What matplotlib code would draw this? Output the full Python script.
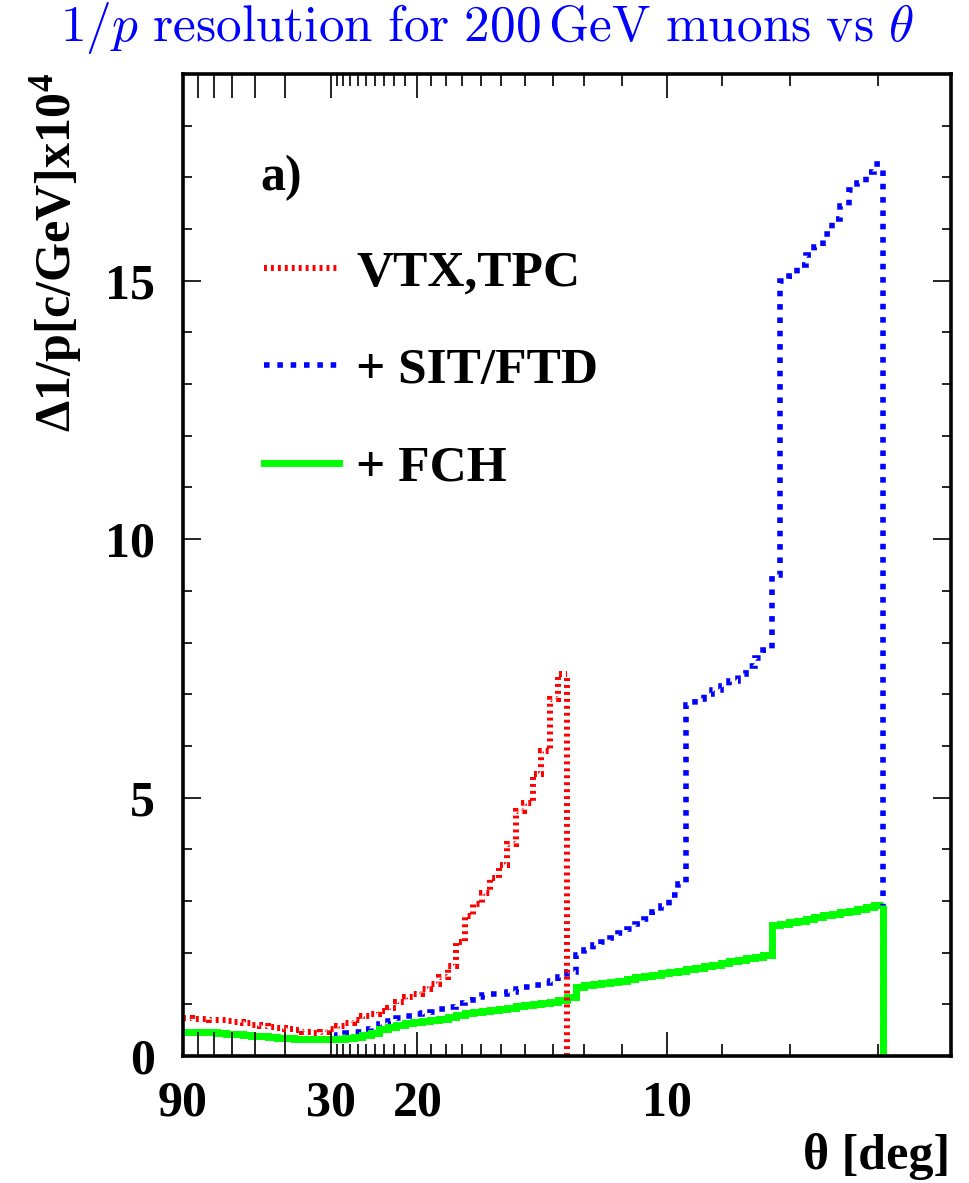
import numpy as np
import matplotlib
matplotlib.use("Agg")
import matplotlib.pyplot as plt
from matplotlib.lines import Line2D

plt.rcParams.update({
    'font.family': 'Liberation Serif',
    'font.weight': 'bold',
    'font.size': 36,
    'mathtext.fontset': 'custom',
    'mathtext.rm': 'Liberation Serif:bold',
    'mathtext.it': 'Liberation Serif:bold',
    'mathtext.bf': 'Liberation Serif:bold',
    'lines.scale_dashes': False,
})

# resolution histograms, bins of 0.1 in cot(theta)
bin_width = 0.1
vtx_tpc = [0.73, 0.72, 0.71, 0.70, 0.69, 0.67, 0.65, 0.63, 0.60, 0.58,
           0.56, 0.54, 0.52, 0.50, 0.47, 0.45, 0.47, 0.53, 0.58, 0.64,
           0.70, 0.77, 0.81, 0.87, 0.93, 1.05, 1.14, 1.19, 1.30, 1.40,
           1.52, 1.75, 2.20, 2.70, 2.95, 3.15, 3.45, 3.70, 4.10, 4.75,
           4.90, 5.45, 5.90, 6.90, 7.40]
sit_ftd = [0.47, 0.47, 0.46, 0.46, 0.44, 0.43, 0.42, 0.40, 0.39, 0.38,
           0.36, 0.35, 0.34, 0.33, 0.32, 0.32, 0.33, 0.37, 0.40, 0.44,
           0.47, 0.52, 0.56, 0.62, 0.68, 0.74, 0.78, 0.82, 0.84, 0.86,
           0.90, 0.95, 1.03, 1.09, 1.15, 1.18, 1.19, 1.20, 1.24, 1.29,
           1.33, 1.37, 1.42, 1.45, 1.52, 1.63, 1.95, 2.06, 2.15, 2.21,
           2.29, 2.38, 2.46, 2.55, 2.66, 2.78, 2.90, 3.12, 3.32, 6.80,
           6.90, 7.00, 7.08, 7.15, 7.25, 7.40, 7.55, 7.70, 7.85, 9.30,
           15.0, 15.1, 15.3, 15.5, 15.65, 15.9, 16.2, 16.45, 16.75, 16.9,
           17.1, 17.25]
fch = [0.47, 0.47, 0.46, 0.46, 0.44, 0.43, 0.42, 0.40, 0.39, 0.38,
       0.36, 0.35, 0.34, 0.33, 0.32, 0.32, 0.33, 0.33, 0.33, 0.34,
       0.36, 0.40, 0.45, 0.52, 0.57, 0.60, 0.63, 0.65, 0.67, 0.69,
       0.72, 0.76, 0.80, 0.83, 0.86, 0.88, 0.89, 0.91, 0.93, 0.96,
       0.98, 1.00, 1.02, 1.04, 1.08, 1.15, 1.34, 1.37, 1.39, 1.41,
       1.43, 1.46, 1.49, 1.52, 1.54, 1.57, 1.60, 1.62, 1.65, 1.68,
       1.71, 1.74, 1.77, 1.80, 1.83, 1.86, 1.89, 1.92, 1.96, 2.53,
       2.56, 2.59, 2.62, 2.66, 2.69, 2.72, 2.75, 2.78, 2.81, 2.84,
       2.88, 2.92]

theta_major = [90, 80, 70, 60, 50, 40, 30, 20, 10]
theta_labels = ['90', '', '', '', '', '', '30', '20', '10']
theta_minor = [29, 28, 27, 26, 25, 24, 23, 22, 21,
               19, 18, 17, 16, 15, 14, 13, 12, 11, 9, 8, 7]


def cot(deg):
    return 1.0 / np.tan(np.radians(np.asarray(deg, dtype=float)))


def draw_hist(ax, vals, style):
    # step outline, closed down to zero only at the last bin edge
    e = np.arange(len(vals) + 1) * bin_width
    ax.stairs(vals, e, baseline=None, fill=False, **style)
    ax.vlines(e[-1], 0, vals[-1], colors=style['color'], lw=style['lw'],
              linestyles=style['ls'])


fig = plt.figure(figsize=(9.7, 11.83), dpi=100)
ax = fig.add_axes([183/970, 1-1056/1183, (951-183)/970, (1056-74)/1183])

red_style = dict(color='#ff0000', lw=4.3, ls=(0, (2.1, 2.9)))
blue_style = dict(color='#0000ff', lw=4.0, ls=(0, (4.0, 5.6)))
green_style = dict(color='#00ff00', lw=5.0, ls='-')

draw_hist(ax, sit_ftd, blue_style)
draw_hist(ax, fch, green_style)
draw_hist(ax, vtx_tpc, red_style)

ax.set_xlim(0, 9)
ax.set_ylim(0, 19)

ax.set_xticks(cot(theta_major))
ax.set_xticklabels(theta_labels)
ax.set_xticks(cot(theta_minor), minor=True)
ax.set_yticks([0, 5, 10, 15])
ax.set_yticks(np.arange(0, 19), minor=True)

ax.tick_params(axis='both', which='both', direction='in', top=True,
               right=True, width=1.2, labelsize=36)
ax.tick_params(axis='x', which='major', length=17, pad=18)
ax.tick_params(axis='x', which='minor', length=8.5)
ax.tick_params(axis='y', which='major', length=13, pad=20)
ax.tick_params(axis='y', which='minor', length=6.5)
for s in ax.spines.values():
    s.set_linewidth(2.6)

# legend
handles = [Line2D([], [], **red_style),
           Line2D([], [], **blue_style),
           Line2D([], [], **green_style)]
ax.legend(handles, ['VTX,TPC', '+ SIT/FTD', '+ FCH'], loc='upper left',
          bbox_to_anchor=(0.072, 0.847), frameon=False, borderpad=0,
          handlelength=1.45, handletextpad=0.35, labelspacing=0.98,
          fontsize=37)
ax.text(0.101, 0.894, 'a)', transform=ax.transAxes, fontsize=36,
        ha='left', va='center')

fig.text(950/970, 1-1157/1183, 'θ [deg]', fontsize=36, ha='right',
         va='center')
fig.text(56/970, 1-73/1183, 'Δ1/p[c/GeV]x10$^{4}$', fontsize=36,
         rotation=90, ha='center', va='top')

fig.text(487/970, 1-28/1183,
         r'$1/p\ \mathrm{resolution\ for\ 200\,GeV\ muons\ vs}\ \theta$',
         color='#0000ff', fontsize=37, ha='center', va='center',
         math_fontfamily='cm')

fig.savefig('out.png', dpi=100, facecolor='white')
